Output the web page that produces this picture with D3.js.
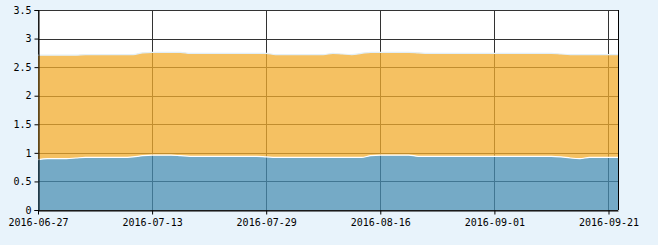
<!DOCTYPE html>
<html>
<head>
<meta charset="utf-8">
<script src="https://cdn.jsdelivr.net/npm/d3@7"></script>
<style>
  html, body { margin: 0; padding: 0; background: #e8f3fb; }
  svg { display: block; }
  .tick text { font-family: "DejaVu Sans Mono", monospace; font-size: 10px; fill: #000; }
</style>
</head>
<body>
<svg id="chart" width="658" height="245"></svg>
<script>
// Trading days (category axis, every 12th labelled)
var dates = [
  '2016-06-27', '2016-06-28', '2016-06-29', '2016-06-30',
  '2016-07-01', '2016-07-04', '2016-07-05', '2016-07-06', '2016-07-07', '2016-07-08',
  '2016-07-11', '2016-07-12', '2016-07-13', '2016-07-14', '2016-07-15',
  '2016-07-18', '2016-07-19', '2016-07-20', '2016-07-21', '2016-07-22',
  '2016-07-25', '2016-07-26', '2016-07-27', '2016-07-28', '2016-07-29',
  '2016-08-01', '2016-08-02', '2016-08-03', '2016-08-04', '2016-08-05',
  '2016-08-08', '2016-08-09', '2016-08-10', '2016-08-11', '2016-08-12',
  '2016-08-15', '2016-08-16', '2016-08-17', '2016-08-18', '2016-08-19',
  '2016-08-22', '2016-08-23', '2016-08-24', '2016-08-25', '2016-08-26',
  '2016-08-29', '2016-08-30', '2016-08-31',
  '2016-09-01', '2016-09-02', '2016-09-05', '2016-09-06', '2016-09-07', '2016-09-08', '2016-09-09',
  '2016-09-12', '2016-09-13', '2016-09-14', '2016-09-19', '2016-09-20', '2016-09-21', '2016-09-22'
];

// lower (blue) band
var seriesLow = [
  0.88, 0.90, 0.90, 0.90, 0.91, 0.92, 0.92, 0.92, 0.92, 0.92,
  0.93, 0.95, 0.96, 0.96, 0.96, 0.95, 0.94, 0.94, 0.94, 0.94,
  0.94, 0.94, 0.94, 0.94, 0.93, 0.92, 0.92, 0.92, 0.92, 0.92,
  0.92, 0.92, 0.92, 0.92, 0.92, 0.95, 0.96, 0.96, 0.96, 0.96,
  0.94, 0.94, 0.94, 0.94, 0.94, 0.94, 0.94, 0.94, 0.94, 0.94,
  0.94, 0.94, 0.94, 0.94, 0.94, 0.93, 0.91, 0.90, 0.92, 0.92,
  0.92, 0.92
];

// upper (orange) band, stacked on the blue one
var seriesHigh = [
  1.83, 1.81, 1.81, 1.81, 1.80, 1.80, 1.80, 1.80, 1.80, 1.80,
  1.79, 1.80, 1.80, 1.80, 1.80, 1.81, 1.80, 1.80, 1.80, 1.80,
  1.80, 1.80, 1.80, 1.80, 1.81, 1.80, 1.80, 1.80, 1.80, 1.80,
  1.80, 1.82, 1.81, 1.80, 1.82, 1.81, 1.80, 1.80, 1.80, 1.80,
  1.81, 1.80, 1.80, 1.80, 1.80, 1.80, 1.80, 1.80, 1.80, 1.80,
  1.80, 1.80, 1.80, 1.80, 1.80, 1.80, 1.81, 1.82, 1.80, 1.80,
  1.80, 1.80
];

var yTicks = [0, 0.5, 1, 1.5, 2, 2.5, 3, 3.5];
var labelEvery = 12;

var margin = {top: 10, right: 40, bottom: 35, left: 38};
var W = 658, H = 245;
var svg = d3.select('#chart');

var x = d3.scaleLinear()
    .domain([0, dates.length - 1])
    .range([margin.left, W - margin.right]);

var y = d3.scaleLinear()
    .domain([0, 3.5])
    .range([H - margin.bottom, margin.top]);

// plot background
svg.append('rect')
    .attr('x', margin.left)
    .attr('y', margin.top)
    .attr('width', W - margin.left - margin.right)
    .attr('height', H - margin.top - margin.bottom)
    .attr('fill', '#fff');

var xTickIdx = d3.range(0, dates.length, labelEvery);

// grid
var grid = svg.append('g').attr('stroke', '#333').attr('stroke-width', 1);
grid.selectAll('.hg').data(yTicks).enter().append('line')
    .attr('x1', margin.left).attr('x2', W - margin.right)
    .attr('y1', function(d) { return Math.round(y(d)) + 0.5; })
    .attr('y2', function(d) { return Math.round(y(d)) + 0.5; });
grid.selectAll('.vg').data(xTickIdx).enter().append('line')
    .attr('y1', margin.top).attr('y2', H - margin.bottom)
    .attr('x1', function(d) { return Math.round(x(d)) + 0.5; })
    .attr('x2', function(d) { return Math.round(x(d)) + 0.5; });

// stacked areas
var rows = dates.map(function(d, i) { return {low: seriesLow[i], high: seriesHigh[i]}; });
var stack = d3.stack().keys(['low', 'high'])(rows);

var area = d3.area()
    .curve(d3.curveMonotoneX)
    .x(function(d, i) { return x(i); })
    .y0(function(d) { return y(d[0]); })
    .y1(function(d) { return y(d[1]); });

var line = d3.line()
    .curve(d3.curveMonotoneX)
    .x(function(d, i) { return x(i); })
    .y(function(d) { return y(d[1]); });

var fills = ['#478eb3', '#f2ac2e'];
var edges = ['#ffffff', '#e2eff8'];

svg.selectAll('.band').data(stack).enter().append('path')
    .attr('d', area)
    .attr('fill', function(d, i) { return fills[i]; })
    .attr('fill-opacity', 0.75);

svg.selectAll('.edge').data(stack).enter().append('path')
    .attr('d', line)
    .attr('fill', 'none')
    .attr('stroke', function(d, i) { return edges[i]; })
    .attr('stroke-width', 1.2);

// axes
var yAxis = d3.axisLeft(y)
    .tickValues(yTicks)
    .tickSize(4)
    .tickPadding(3)
    .tickFormat(function(d) { return String(d); });

svg.append('g')
    .attr('transform', 'translate(' + (margin.left + 0.5) + ',0)')
    .call(yAxis)
    .call(function(g) { g.select('.domain').attr('stroke', '#000'); });

var xAxis = d3.axisBottom(x)
    .tickValues(xTickIdx)
    .tickSize(4)
    .tickSizeOuter(0)
    .tickPadding(4)
    .tickFormat(function(i) { return dates[i]; });

svg.append('g')
    .attr('transform', 'translate(0,' + (H - margin.bottom + 0.5) + ')')
    .call(xAxis)
    .call(function(g) { g.select('.domain').attr('stroke', '#000'); });

// right border
svg.append('line')
    .attr('x1', W - margin.right + 0.5).attr('x2', W - margin.right + 0.5)
    .attr('y1', margin.top).attr('y2', H - margin.bottom)
    .attr('stroke', '#000');
</script>
</body>
</html>
